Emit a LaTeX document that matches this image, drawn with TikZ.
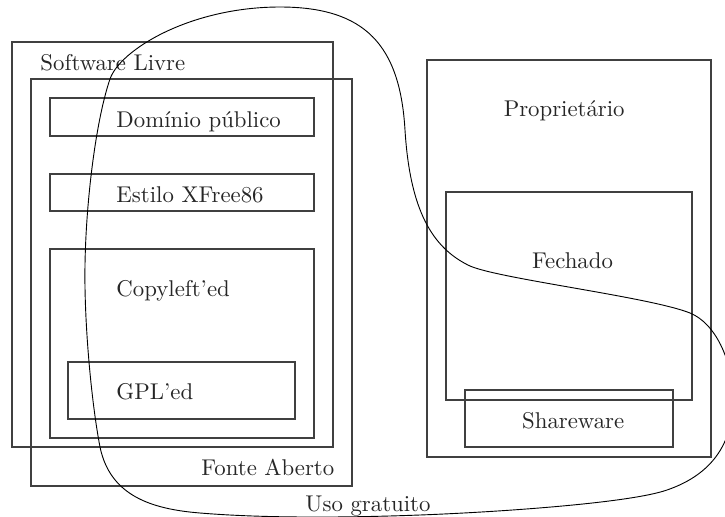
\documentclass[tikz,border=0pt]{standalone}
\usetikzlibrary{fit}
\begin{document}
\begin{tikzpicture}[x=0.4386pt, y=-0.4386pt,
  region/.style={draw=black!75, line width=0.45pt, inner sep=0pt},
  lbl/.style={anchor=base west, inner sep=0pt, text=black!85},
  gratis/.style={draw=black, line width=0.4pt}]
\useasboundingbox (0,0) rectangle (725,517);

% free / open source side
\node[region, fit={(12,42) (333,447)}]  (livre)   {};
\node[region, fit={(31,79) (352,486)}]  (aberto)  {};
\node[region, fit={(50,98) (314,136)}]  (dominio) {};
\node[region, fit={(50,174) (314,211)}] (xfree)   {};
\node[region, fit={(50,249) (314,438)}] (copyleft){};
\node[region, fit={(68,362) (295,419)}] (gpl)     {};

% proprietary side
\node[region, fit={(427,60) (711,457)}]  (proprietario) {};
\node[region, fit={(446,192) (692,400)}] (fechado)      {};
\node[region, fit={(465,390) (673,447)}] (shareware)    {};

% labels
\node[lbl] (tLivre)    at (40,70.5)  {Software Livre};
\node[lbl] (tDominio)  at (116,127)  {Domínio público};
\node[lbl] (tXfree)    at (116,202.3){Estilo XFree86};
\node[lbl] (tCopy)     at (116,296)  {Copyleft'ed};
\node[lbl] (tGpl)      at (116,399)  {GPL'ed};
\node[lbl] (tAberto)   at (201,475)  {Fonte Aberto};
\node[lbl] (tProp)     at (503.3,116.7) {Proprietário};
\node[lbl] (tFechado)  at (531.7,268) {Fechado};
\node[lbl] (tShare)    at (521.7,428.3) {Shareware};
\node[lbl] (tGratis)   at (305,511.5) {Uso gratuito};

% free-of-charge region
\begin{scope}
\clip (0,0) rectangle (725,517);
\draw[gratis] (280,7)
  .. controls (365,7)   and (400,45)  .. (405,130)
  .. controls (410,210) and (432,248) .. (470,266)
  .. controls (500,279) and (650,297) .. (690,313)
  .. controls (715,323) and (733,360) .. (733,400)
  .. controls (733,450) and (705,477) .. (667,490)
  .. controls (630,503) and (500,512) .. (420,515)
  .. controls (340,518) and (260,518) .. (200,513)
  .. controls (150,509) and (110,495) .. (100,447)
  .. controls (91,400)  and (84,320)  .. (85,265)
  .. controls (86,200)  and (96,120)  .. (110,79)
  .. controls (120,50)  and (190,7)   .. (280,7) -- cycle;
\end{scope}
\end{tikzpicture}
\end{document}
